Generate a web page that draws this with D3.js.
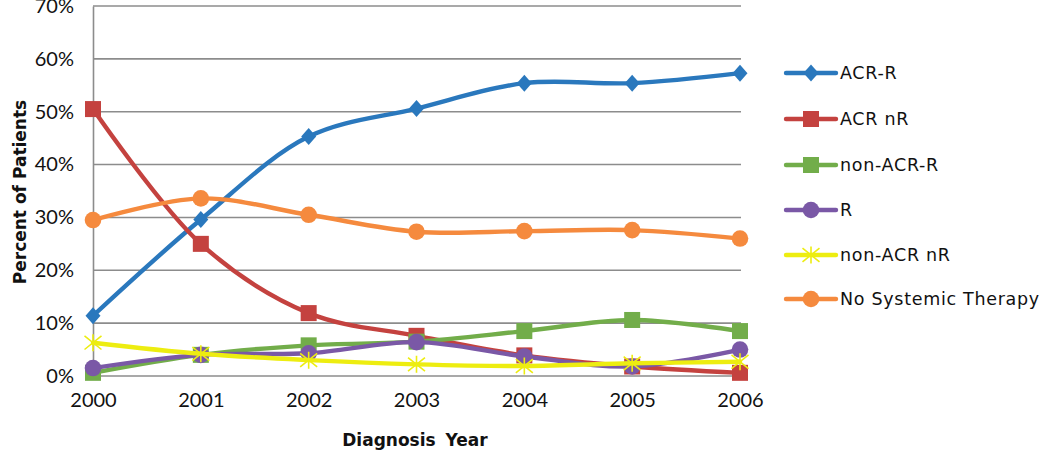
<!DOCTYPE html>
<html><head><meta charset="utf-8">
<script src="https://cdn.jsdelivr.net/npm/d3@7"></script>
<style>body{margin:0;background:#fff}svg{display:block}</style>
</head><body>
<script>
const years = [2000, 2001, 2002, 2003, 2004, 2005, 2006];
const yTicks = [0, 10, 20, 30, 40, 50, 60, 70];
const seriesNames = ["ACR-R", "ACR nR", "non-ACR-R", "R", "non-ACR nR", "No Systemic Therapy"];
const acrR       = [11.4, 29.6, 45.3, 50.6, 55.4, 55.4, 57.3];
const acrNR      = [50.5, 25.0, 11.9, 7.6, 3.9, 1.8, 0.6];
const nonAcrR    = [0.6, 4.0, 5.8, 6.5, 8.5, 10.6, 8.5];
const rVals      = [1.5, 4.0, 4.3, 6.4, 3.7, 1.8, 5.0];
const nonAcrNR   = [6.3, 4.2, 3.0, 2.2, 1.9, 2.4, 2.7];
const noTherapy  = [29.5, 33.6, 30.5, 27.3, 27.4, 27.6, 26.0];
const colors  = ["#2a78bd", "#c4423f", "#72ad4a", "#7a58a6", "#eded10", "#f58a3e"];
const markers = ["diamond", "square", "square", "circle", "star", "circle"];
const allValues = [acrR, acrNR, nonAcrR, rVals, nonAcrNR, noTherapy];

const W = 1050, H = 452;
const svg = d3.select("body").append("svg").attr("width", W).attr("height", H);
const x = d3.scaleLinear().domain([2000, 2006]).range([93, 740]);
const y = d3.scaleLinear().domain([0, 70]).range([376, 6]);
const font = "Lato, 'Liberation Sans', sans-serif";
const font2 = "'DejaVu Sans', sans-serif";

// gridlines
svg.append("g").selectAll("line").data(yTicks).join("line")
  .attr("x1", 93).attr("x2", 741)
  .attr("y1", d => y(d)).attr("y2", d => y(d))
  .attr("stroke", "#8c8c8c").attr("stroke-width", 1.6);

// y axis
const yAxis = d3.axisLeft(y).tickValues(yTicks).tickFormat(d => d + "%").tickSize(0).tickPadding(19);
const gy = svg.append("g").attr("transform", "translate(93,0)").call(yAxis);
gy.select(".domain").attr("stroke", "#8c8c8c").attr("stroke-width", 1.6);
gy.selectAll("text").attr("font-family", font).attr("font-size", 20).attr("fill", "#111");

// x axis
const xAxis = d3.axisBottom(x).tickValues(years).tickFormat(d3.format("d")).tickSize(0).tickPadding(17);
const gx = svg.append("g").attr("transform", "translate(0,376)").call(xAxis);
gx.select(".domain").remove();
gx.selectAll("text").attr("font-family", font).attr("font-size", 20).attr("fill", "#111");

// titles
svg.append("text").attr("x", 415).attr("y", 446).attr("text-anchor", "middle")
  .attr("font-family", font2).attr("font-weight", "bold").attr("font-size", 17).attr("fill", "#111")
  .attr("word-spacing", 4).text("Diagnosis Year");
svg.append("text").attr("transform", "translate(20,192) rotate(-90)").attr("text-anchor", "middle")
  .attr("dy", "0.35em").attr("font-family", font2).attr("font-weight", "bold").attr("font-size", 17)
  .attr("fill", "#111").text("Percent of Patients");

function drawMarker(g, type, cx, cy, color) {
  if (type === "diamond") {
    g.append("path").attr("d", `M${cx},${cy-8.5}L${cx+7.5},${cy}L${cx},${cy+8.5}L${cx-7.5},${cy}Z`).attr("fill", color);
  } else if (type === "square") {
    g.append("rect").attr("x", cx-8).attr("y", cy-8).attr("width", 16).attr("height", 16).attr("fill", color);
  } else if (type === "circle") {
    g.append("circle").attr("cx", cx).attr("cy", cy).attr("r", 8.3).attr("fill", color);
  } else if (type === "star") {
    const r = 8.5;
    g.append("path").attr("d", `M${cx},${cy-r}L${cx},${cy+r}M${cx-r},${cy-r*0.8}L${cx+r},${cy+r*0.8}M${cx-r},${cy+r*0.8}L${cx+r},${cy-r*0.8}`)
      .attr("stroke", color).attr("stroke-width", 1.6).attr("fill", "none");
  }
}

const line = d3.line().x((d, i) => x(years[i])).y(d => y(d)).curve(d3.curveCatmullRom.alpha(0.5));

allValues.forEach((vals, si) => {
  const g = svg.append("g");
  g.append("path").datum(vals).attr("d", line).attr("fill", "none")
    .attr("stroke", colors[si]).attr("stroke-width", 4.4).attr("stroke-linejoin", "round").attr("stroke-linecap", "round");
  vals.forEach((v, i) => drawMarker(g, markers[si], x(years[i]), y(v), colors[si]));
});

// legend
const legY = [73, 119, 165, 210, 255, 299];
seriesNames.forEach((name, i) => {
  const g = svg.append("g");
  g.append("line").attr("x1", 786).attr("x2", 836).attr("y1", legY[i]).attr("y2", legY[i])
    .attr("stroke", colors[i]).attr("stroke-width", 4.4).attr("stroke-linecap", "round");
  drawMarker(g, markers[i], 811, legY[i], colors[i]);
  g.append("text").attr("x", 840).attr("y", legY[i]).attr("dy", "0.36em")
    .attr("font-family", font2).attr("font-size", 17.5).attr("letter-spacing", 0.7)
    .attr("fill", "#111").text(name);
});
</script>
</body></html>
